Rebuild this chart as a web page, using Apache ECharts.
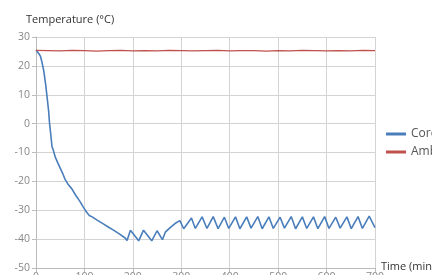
<!DOCTYPE html>
<html>
<head>
<meta charset="utf-8">
<style>
html, body { margin: 0; padding: 0; background: #fff; }
#chart { width: 432px; height: 275px; }
</style>
<script src="https://cdn.jsdelivr.net/npm/echarts@6/dist/echarts.min.js"></script>
</head>
<body>
<div id="chart"></div>
<script>
// core temperature readings (minutes, degC)
var coreTime = [0, 3, 6, 9, 12, 16, 20, 23, 26, 28, 31, 33, 35, 40, 45, 50, 55, 60, 67, 74, 82, 91, 98, 105, 110, 116, 127, 139, 150, 160, 172, 184, 188,
    195, 212, 222, 239, 250, 261, 267, 277, 287, 297, 300, 305, 321, 329, 343, 353, 366, 376,
    389, 398, 412, 421, 435, 444, 458, 467, 481, 490, 504, 513, 527, 536, 550, 559, 573, 582, 596, 605, 619, 628, 642, 651, 665, 674, 688, 700];
var coreTemp = [25.5, 25, 24.2, 23.4, 21.5, 18.3, 13.5, 9, 4.5, 0, -4.5, -8, -8.8, -11.7, -13.6, -15.4, -17.2, -19.3, -21.2, -22.6, -24.8, -27, -29, -30.8, -31.8, -32.3, -33.5, -34.7, -35.9, -36.9, -38.2, -39.6, -40.5,
    -36.9, -40.6, -36.9, -40.6, -37.1, -40.2, -37.6, -36, -34.6, -33.6, -33.2, -36.4, -32.7, -36.3, -32.3, -36.3, -32.2, -36.4,
    -32.4, -36.3, -32.3, -36.4, -32.3, -36.2, -32.2, -36.4, -32.3, -36.3, -32.4, -36.2, -32.2, -36.4, -32.3, -36.3, -32.3, -36.4, -32.2, -36.3, -32.4, -36.2, -32.3, -36.4, -32.2, -36.3, -32, -36];

// ambient temperature readings
var ambTime = [0, 25, 50, 75, 100, 125, 150, 175, 200, 225, 250, 275, 300, 325, 350, 375, 400, 425, 450, 475, 500, 525, 550, 575, 600, 625, 650, 675, 700];
var ambTemp = [25.4, 25.3, 25.2, 25.4, 25.3, 25.1, 25.3, 25.4, 25.2, 25.3, 25.2, 25.4, 25.3, 25.2, 25.3, 25.4, 25.2, 25.3, 25.3, 25.1, 25.3, 25.2, 25.4, 25.3, 25.2, 25.3, 25.2, 25.4, 25.3];

var seriesNames = ['Core temperature', 'Ambient temperature'];

function pairs(xs, ys) {
    return xs.map(function (x, i) { return [x, ys[i]]; });
}

var chart = echarts.init(document.getElementById('chart'));
chart.setOption({
    animation: false,
    textStyle: { fontFamily: 'Open Sans' },
    grid: { left: 36, right: 57, top: 37, bottom: 7, containLabel: false, outerBoundsMode: 'none' },
    legend: {
        orient: 'vertical',
        left: 381,
        top: 123,
        itemWidth: 20,
        itemHeight: 3,
        itemGap: 6,
        icon: 'rect',
        textStyle: { color: '#555', fontSize: 12 },
        data: seriesNames
    },
    xAxis: {
        type: 'value',
        min: 0,
        max: 700,
        interval: 100,
        name: 'Time (min)',
        nameLocation: 'end',
        nameGap: 6,
        nameMoveOverlap: false,
        nameTextStyle: { color: '#333', fontSize: 11, verticalAlign: 'bottom', lineHeight: 14, padding: [0, 0, -6, 0] },
        axisLine: { onZero: false, lineStyle: { color: '#bbb' } },
        axisTick: { show: true, length: 4, lineStyle: { color: '#bbb' } },
        axisLabel: { color: '#888', fontSize: 10.5, margin: 4 },
        splitLine: { show: true, lineStyle: { color: '#d3d3d3', width: 1 } }
    },
    yAxis: {
        type: 'value',
        min: -50,
        max: 30,
        interval: 10,
        name: 'Temperature (°C)',
        nameLocation: 'end',
        nameGap: 12,
        nameMoveOverlap: false,
        nameTextStyle: { color: '#333', fontSize: 11, align: 'left', padding: [0, 0, 0, -10] },
        axisLine: { show: true, onZero: false, lineStyle: { color: '#bbb' } },
        axisTick: { show: true, length: 4, lineStyle: { color: '#bbb' } },
        axisLabel: { color: '#888', fontSize: 10.5, margin: 6 },
        splitLine: { show: true, lineStyle: { color: '#d3d3d3', width: 1 } }
    },
    series: [
        {
            name: seriesNames[0],
            type: 'line',
            data: pairs(coreTime, coreTemp),
            showSymbol: false,
            lineStyle: { color: '#4a7ebb', width: 1.6 },
            itemStyle: { color: '#4a7ebb' }
        },
        {
            name: seriesNames[1],
            type: 'line',
            data: pairs(ambTime, ambTemp),
            showSymbol: false,
            lineStyle: { color: '#c0504d', width: 1.3 },
            itemStyle: { color: '#c0504d' }
        }
    ]
});
</script>
</body>
</html>
